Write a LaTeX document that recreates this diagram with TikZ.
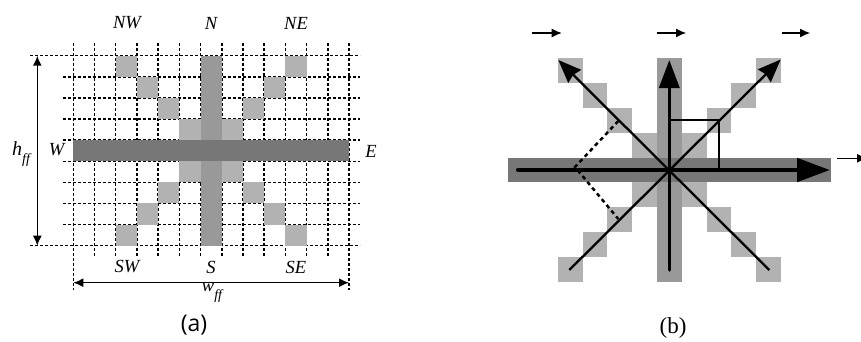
\documentclass[tikz,border=0pt]{standalone}
\usepackage{fontspec}
\setmainfont{Liberation Serif}
\newfontfamily\opensans{Open Sans}
\usetikzlibrary{arrows.meta}
\definecolor{lightg}{HTML}{B2B2B2}
\definecolor{midg}{HTML}{999999}
\definecolor{darkg}{HTML}{777777}
\tikzset{
  gridline/.style={line width=1.5pt, dash pattern=on 3pt off 2pt, black},
  dimarrow/.style={line width=1.5pt, {Latex[length=10pt,width=9pt]}-{Latex[length=10pt,width=9pt]}},
  lab/.style={font=\fontsize{18.5}{22}\selectfont\itshape, inner sep=0pt},
  captext/.style={inner sep=0pt},
  diag/.style={line width=2.3pt, -{Stealth[length=23pt,width=18pt,inset=2pt]}},
  thinbox/.style={line width=2.3pt},
  dashline/.style={line width=2.5pt, dash pattern=on 4pt off 3.5pt},
  smallarrow/.style={line width=1.1pt, -{Latex[length=10pt,width=9pt]}},
}
\newcommand{\subff}{\raisebox{-8pt}{\fontsize{14}{16}\selectfont\itshape ff}}
\begin{document}
\begin{tikzpicture}[x=1pt,y=-1pt]
\useasboundingbox (0,0) rectangle (861,341);
\clip (0,0) rectangle (861,341);
\fill[white] (0,0) rectangle (861,341);
% ---------------- panel (a)
\def\ax{73.3}\def\aw{21.21}\def\ay{55.7}\def\ah{21.11}
\foreach \i in {1,...,12} {\draw[gridline] ({\ax+\i*\aw},43) -- ({\ax+\i*\aw},257);}
\foreach \i in {0,13} {\draw[gridline] ({\ax+\i*\aw},43) -- ({\ax+\i*\aw},290);}
\foreach \j in {1,...,8} {\draw[gridline] (63,{\ay+\j*\ah}) -- (360,{\ay+\j*\ah});}
\foreach \j in {0,9} {\draw[gridline] (30,{\ay+\j*\ah}) -- (360,{\ay+\j*\ah});}
\foreach \k in {1,...,4} {\foreach \sx in {-1,1} {\foreach \sy in {-1,1} {
  \fill[lightg] ({\ax+(6+\sx*\k)*\aw},{\ay+(4+\sy*\k)*\ah}) rectangle ++(\aw,\ah);}}}
\fill[midg] ({\ax+6*\aw},\ay) rectangle ++(\aw,{9*\ah});
\fill[darkg] (\ax,{\ay+4*\ah}) rectangle ++({13*\aw},\ah);
\coordinate (htop) at (37.3,55.7);
\coordinate (hbot) at (37.3,245.7);
\draw[dimarrow] (htop) -- (hbot);
\coordinate (wl) at (73.3,282.7);
\coordinate (wr) at (349,282.7);
\draw[dimarrow] (wl) -- (wr);
\node[lab] (NW) at (127,23) {NW};
\node[lab] (N) at (211,23) {N};
\node[lab] (NE) at (296,23) {NE};
\node[lab] (SW) at (127,267) {SW};
\node[lab] (S) at (211,267) {S};
\node[lab] (SE) at (296,267) {SE};
\node[lab] (W) at (56.5,150) {W};
\node[lab] (E) at (371,151) {E};
\node[lab, font=\fontsize{20}{24}\selectfont\itshape] (hff) at (21,154) {h\subff};
\node[lab] (wff) at (212,293) {w\subff};
\node[captext, font=\opensans\fontsize{23}{27}\selectfont] (capa) at (194,325) {(a)};
% ---------------- panel (b)
\def\cx{669.3}\def\cy{170}\def\s{24.8}
\foreach \k in {1,...,4} {\foreach \sx in {-1,1} {\foreach \sy in {-1,1} {
  \fill[lightg] ({\cx+(\sx*\k-0.5)*\s},{\cy+(\sy*\k-0.5)*\s}) rectangle ++(\s,\s);}}}
\fill[midg] ({\cx-0.5*\s},{\cy-4.5*\s}) rectangle ++(\s,{9*\s});
\fill[darkg] ({\cx-6.5*\s},{\cy-0.5*\s}) rectangle ++({13*\s},\s);
\coordinate (C) at (\cx,\cy);
\coordinate (Ew) at (518.3,170);
\coordinate (Ee) at (830,170);
\coordinate (Vs) at (669.3,270);
\coordinate (Vn) at (669.3,60);
\coordinate (SEend) at (769.3,270);
\coordinate (NWtip) at (558.3,60);
\coordinate (SWend) at (569.3,270);
\coordinate (NEtip) at (780.7,59.5);
\draw[diag] (SEend) -- (NWtip);
\draw[diag] (SWend) -- (NEtip);
\draw[line width=3.5pt, line cap=round, -{Triangle[length=28pt,width=20pt]}] (Vs) -- (Vn);
\draw[line width=4.8pt, line cap=round, -{Triangle[length=33pt,width=23pt]}] (Ew) -- (Ee);
\coordinate (B1) at (669.3,120);
\coordinate (B2) at (719.3,120);
\coordinate (B3) at (719.3,168);
\draw[thinbox] (B1) -- (B2) -- (B3);
\coordinate (D0) at (575,167);
\coordinate (D1) at (618.3,121);
\coordinate (D2) at (618.3,219);
\draw[dashline] (D1) -- (D0) -- (D2);
\coordinate (a1s) at (531.7,33); \coordinate (a1e) at (561.7,33);
\coordinate (a2s) at (656.7,33); \coordinate (a2e) at (686,33);
\coordinate (a3s) at (781.7,33); \coordinate (a3e) at (810,33);
\coordinate (a4s) at (837.3,158.3); \coordinate (a4e) at (867,158.3);
\draw[smallarrow] (a1s) -- (a1e);
\draw[smallarrow] (a2s) -- (a2e);
\draw[smallarrow] (a3s) -- (a3e);
\draw[smallarrow] (a4s) -- (a4e);
\node[captext, font=\fontsize{23}{27}\selectfont] (capb) at (673,328) {(b)};
\end{tikzpicture}
\end{document}
